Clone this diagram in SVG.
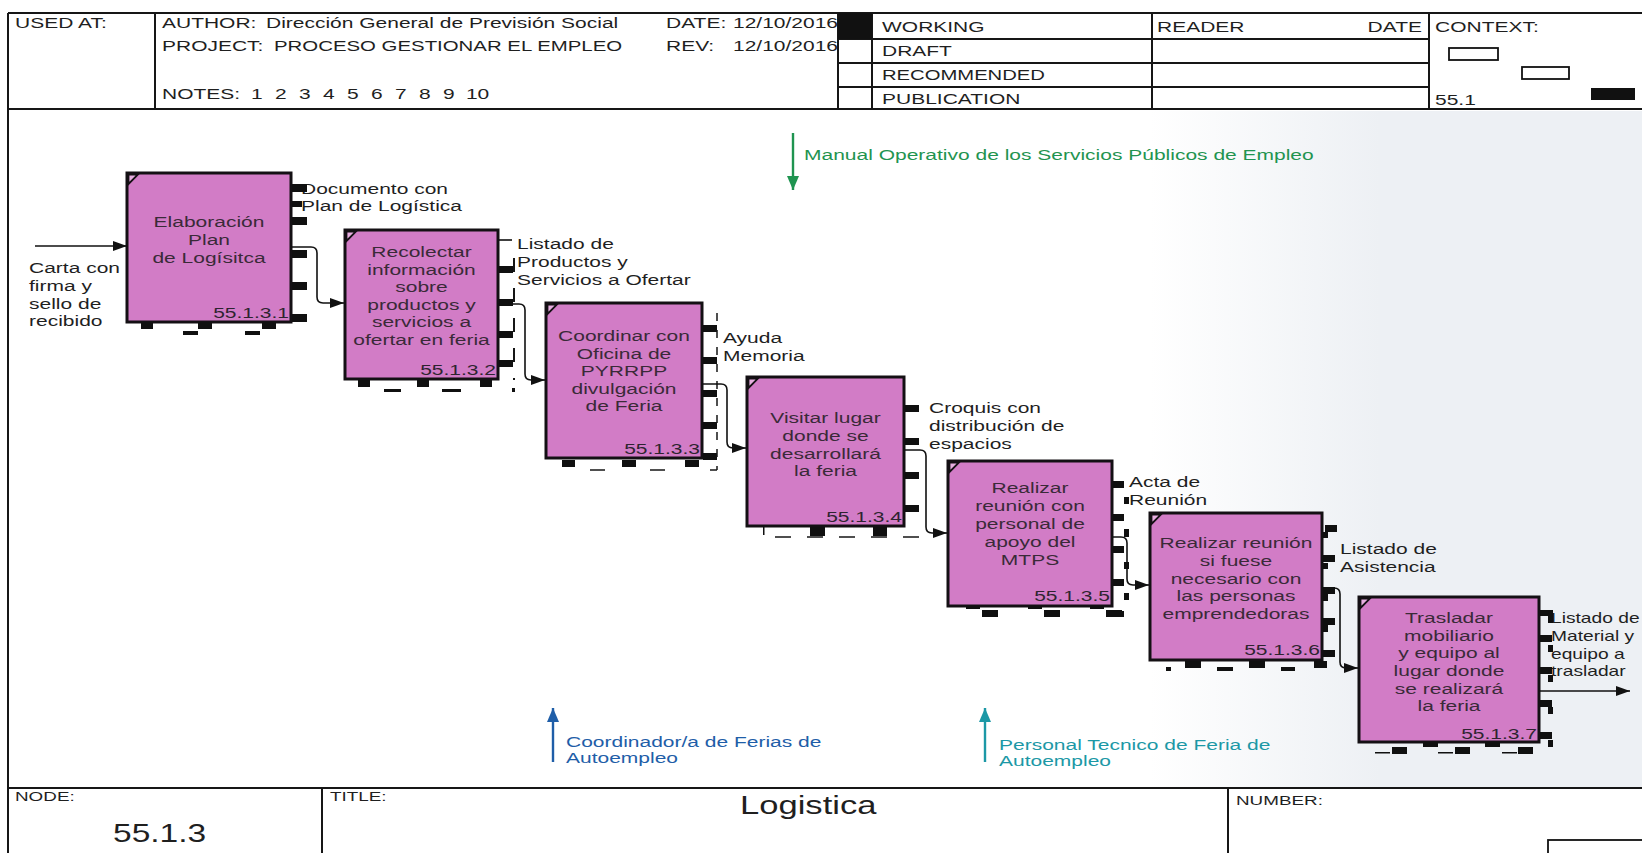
<svg xmlns="http://www.w3.org/2000/svg" width="1642" height="853" viewBox="0 0 1642 853">
  <defs>
    <style>
      .t{font-family:"Liberation Sans",Arial,sans-serif;font-size:15px;fill:#1f1f1f}
      .big{font-size:26px}
      .small{font-size:13px}
      .lbl{fill:#3a2a38;text-anchor:middle}
      .num{fill:#2e2430;text-anchor:end}
      .frame{fill:none;stroke:#161616;stroke-width:2}
      .box{fill:#d27cc6;stroke:#141014;stroke-width:3}
      .corner{fill:#e7aee0;stroke:#141014;stroke-width:1.8}
      .mk{fill:#101010}
      .dash{fill:none;stroke:#161616;stroke-width:2;stroke-dasharray:14 16}
      .conn{fill:none;stroke:#111;stroke-width:1.6}
      .green{fill:#1f9450}
      .blue{fill:#1f5ea8}
      .teal{fill:#1c98a6}
    </style>
    <linearGradient id="tint" x1="1150" y1="0" x2="1380" y2="0" gradientUnits="userSpaceOnUse">
      <stop offset="0" stop-color="#edf0f4" stop-opacity="0"/>
      <stop offset="1" stop-color="#edf0f4" stop-opacity="1"/>
    </linearGradient>
    <marker id="ah" viewBox="0 0 14 10" refX="14" refY="5" markerWidth="14" markerHeight="10" markerUnits="userSpaceOnUse" orient="auto">
      <path d="M0,0 L14,5 L0,10 z" fill="#111"/>
    </marker>
    <marker id="ahGreen" viewBox="0 0 14 12" refX="14" refY="6" markerWidth="14" markerHeight="12" markerUnits="userSpaceOnUse" orient="auto">
      <path d="M0,0 L14,6 L0,12 z" fill="#1f9450"/>
    </marker>
    <marker id="ahBlue" viewBox="0 0 14 12" refX="14" refY="6" markerWidth="14" markerHeight="12" markerUnits="userSpaceOnUse" orient="auto">
      <path d="M0,0 L14,6 L0,12 z" fill="#1f5ea8"/>
    </marker>
    <marker id="ahTeal" viewBox="0 0 14 12" refX="14" refY="6" markerWidth="14" markerHeight="12" markerUnits="userSpaceOnUse" orient="auto">
      <path d="M0,0 L14,6 L0,12 z" fill="#1c98a6"/>
    </marker>
  </defs>

  <!-- paper -->
  <rect x="0" y="0" width="1642" height="853" fill="#ffffff"/>
  <rect x="1150" y="111" width="492" height="676" fill="url(#tint)"/>

  <!-- header block -->
  <g id="header">
    <line class="frame" x1="8" y1="13" x2="1642" y2="13"/>
    <line class="frame" x1="8" y1="109" x2="1642" y2="109"/>
    <line class="frame" x1="8" y1="13" x2="8" y2="853"/>
    <line class="frame" x1="155" y1="13" x2="155" y2="109"/>
    <line class="frame" x1="838" y1="13" x2="838" y2="109"/>
    <line class="frame" x1="872" y1="13" x2="872" y2="109"/>
    <line class="frame" x1="1152" y1="13" x2="1152" y2="109"/>
    <line class="frame" x1="1429" y1="13" x2="1429" y2="109"/>
    <line class="frame" x1="838" y1="39" x2="1429" y2="39"/>
    <line class="frame" x1="838" y1="63" x2="1429" y2="63"/>
    <line class="frame" x1="838" y1="87" x2="1429" y2="87"/>
    <rect x="838" y="13" width="34" height="26" fill="#111"/>

    <text class="t" transform="translate(15,28) scale(1.4,1)">USED AT:</text>
    <text class="t" transform="translate(162,28) scale(1.4,1)">AUTHOR:</text>
    <text class="t" transform="translate(266,28) scale(1.4,1)">Dirección General de Previsión Social</text>
    <text class="t" transform="translate(162,51) scale(1.4,1)">PROJECT:</text>
    <text class="t" transform="translate(274,51) scale(1.36,1)">PROCESO GESTIONAR EL EMPLEO</text>
    <text class="t" transform="translate(162,99) scale(1.4,1)">NOTES:<tspan x="63.6">1</tspan><tspan x="80.7">2</tspan><tspan x="97.9">3</tspan><tspan x="115">4</tspan><tspan x="132.1">5</tspan><tspan x="149.3">6</tspan><tspan x="166.4">7</tspan><tspan x="183.6">8</tspan><tspan x="200.7">9</tspan><tspan x="217.1">10</tspan></text>
    <text class="t" transform="translate(666,28) scale(1.4,1)">DATE:</text>
    <text class="t" transform="translate(733,28) scale(1.4,1)">12/10/2016</text>
    <text class="t" transform="translate(666,51) scale(1.4,1)">REV:</text>
    <text class="t" transform="translate(733,51) scale(1.4,1)">12/10/2016</text>

    <text class="t" transform="translate(882,32) scale(1.4,1)">WORKING</text>
    <text class="t" transform="translate(882,56) scale(1.4,1)">DRAFT</text>
    <text class="t" transform="translate(882,80) scale(1.35,1)">RECOMMENDED</text>
    <text class="t" transform="translate(882,104) scale(1.4,1)">PUBLICATION</text>
    <text class="t" transform="translate(1157,32) scale(1.4,1)">READER</text>
    <text class="t" transform="translate(1422,32) scale(1.4,1)" text-anchor="end">DATE</text>
    <text class="t" transform="translate(1435,32) scale(1.4,1)">CONTEXT:</text>
    <text class="t" transform="translate(1435,105) scale(1.4,1)">55.1</text>
    <rect x="1449" y="48" width="49" height="12" fill="#fff" stroke="#111" stroke-width="1.8"/>
    <rect x="1522" y="67" width="47" height="12" fill="#fff" stroke="#111" stroke-width="1.8"/>
    <rect x="1591" y="88" width="44" height="12" fill="#111"/>
  </g>

  <!-- footer block -->
  <g id="footer">
    <line class="frame" x1="8" y1="788" x2="1642" y2="788"/>
    <line class="frame" x1="322" y1="788" x2="322" y2="853"/>
    <line class="frame" x1="1228" y1="788" x2="1228" y2="853"/>
    <rect x="1548" y="840" width="100" height="20" fill="#fff" stroke="#111" stroke-width="1.8"/>
    <text class="t small" transform="translate(15,801) scale(1.45,1)">NODE:</text>
    <text class="t small" transform="translate(330,801) scale(1.45,1)">TITLE:</text>
    <text class="t small" transform="translate(1236,805) scale(1.45,1)">NUMBER:</text>
    <text class="t big" transform="translate(740,814) scale(1.33,1)">Logistica</text>
    <text class="t big" transform="translate(113,842) scale(1.29,1)">55.1.3</text>
  </g>

  <!-- activity boxes -->
  <g id="A1">
    <rect class="box" x="127" y="173" width="164" height="149"/>
    <path class="corner" d="M128.5,184 L128.5,174.5 L138,174.5 Z"/>
    <text class="t lbl" transform="translate(209,227) scale(1.4,1)"><tspan x="0">Elaboración</tspan><tspan x="0" dy="17.8">Plan</tspan><tspan x="0" dy="17.8">de Logísitca</tspan></text>
    <text class="t num" transform="translate(289,318) scale(1.4,1)">55.1.3.1</text>
    <g class="mk">
      <rect x="292" y="184" width="15" height="8"/><rect x="292" y="217" width="15" height="8"/>
      <rect x="292" y="250" width="15" height="8"/><rect x="292" y="282" width="15" height="8"/>
      <rect x="292" y="314" width="15" height="8"/>
      <rect x="141" y="322" width="12" height="7"/><rect x="198" y="322" width="14" height="7"/><rect x="262" y="322" width="14" height="7"/>
      <rect x="183" y="331" width="15" height="4"/><rect x="245" y="331" width="15" height="4"/>
    </g>
  </g>

  <g id="A2">
    <rect class="box" x="345" y="230" width="153" height="149"/>
    <path class="corner" d="M346.5,241 L346.5,231.5 L356,231.5 Z"/>
    <text class="t lbl" transform="translate(421.5,257) scale(1.4,1)"><tspan x="0">Recolectar</tspan><tspan x="0" dy="17.6">información</tspan><tspan x="0" dy="17.6">sobre</tspan><tspan x="0" dy="17.6">productos y</tspan><tspan x="0" dy="17.6">servicios a</tspan><tspan x="0" dy="17.6">ofertar en feria</tspan></text>
    <text class="t num" transform="translate(496,375) scale(1.4,1)">55.1.3.2</text>
    <g class="mk">
      <rect x="499" y="266" width="14" height="7"/><rect x="499" y="299" width="14" height="7"/>
      <rect x="499" y="331" width="14" height="7"/><rect x="499" y="360" width="14" height="7"/>
      <rect x="358" y="380" width="12" height="7"/><rect x="417" y="380" width="12" height="7"/><rect x="480" y="380" width="12" height="7"/>
      <rect x="384" y="389" width="17" height="3"/><rect x="442" y="389" width="19" height="3"/>
      <rect x="512" y="388" width="3" height="4"/>
    </g>
    <line class="dash" x1="514" y1="258" x2="514" y2="380" stroke-width="2.4" stroke-dasharray="6 12"/>
  </g>

  <g id="A3">
    <rect class="box" x="546" y="303" width="156" height="155"/>
    <path class="corner" d="M547.5,314 L547.5,304.5 L557,304.5 Z"/>
    <text class="t lbl" transform="translate(624,341) scale(1.4,1)"><tspan x="0">Coordinar con</tspan><tspan x="0" dy="17.6">Oficina de</tspan><tspan x="0" dy="17.6">PYRRPP</tspan><tspan x="0" dy="17.6">divulgación</tspan><tspan x="0" dy="17.6">de Feria</tspan></text>
    <text class="t num" transform="translate(700,454) scale(1.4,1)">55.1.3.3</text>
    <g class="mk">
      <rect x="703" y="325" width="14" height="7"/><rect x="703" y="357" width="14" height="7"/>
      <rect x="703" y="390" width="14" height="7"/><rect x="703" y="422" width="14" height="7"/>
      <rect x="703" y="453" width="14" height="7"/>
      <rect x="562" y="460" width="13" height="7"/><rect x="622" y="460" width="14" height="7"/><rect x="685" y="460" width="14" height="7"/>
    </g>
    <line x1="717" y1="313" x2="717" y2="470" stroke="#161616" stroke-width="1.5" stroke-dasharray="8 9"/>
    <line x1="590" y1="470" x2="717" y2="470" stroke="#161616" stroke-width="1.5" stroke-dasharray="15 45"/>
  </g>

  <g id="A4">
    <rect class="box" x="747" y="377" width="157" height="149"/>
    <path class="corner" d="M748.5,388 L748.5,378.5 L758,378.5 Z"/>
    <text class="t lbl" transform="translate(825.5,423) scale(1.4,1)"><tspan x="0">Visitar lugar</tspan><tspan x="0" dy="17.8">donde se</tspan><tspan x="0" dy="17.8">desarrollará</tspan><tspan x="0" dy="17.8">la feria</tspan></text>
    <text class="t num" transform="translate(902,522) scale(1.4,1)">55.1.3.4</text>
    <g class="mk">
      <rect x="905" y="405" width="14" height="7"/><rect x="905" y="438" width="14" height="7"/>
      <rect x="905" y="472" width="14" height="7"/><rect x="905" y="505" width="14" height="7"/>
      <rect x="810" y="527" width="15" height="9"/><rect x="873" y="527" width="14" height="9"/>
      <rect x="763" y="527" width="1.5" height="8"/>
    </g>
    <line x1="775" y1="537" x2="920" y2="537" stroke="#161616" stroke-width="1.6" stroke-dasharray="16 16"/>
  </g>

  <g id="A5">
    <rect class="box" x="948" y="461" width="164" height="145"/>
    <path class="corner" d="M949.5,472 L949.5,462.5 L959,462.5 Z"/>
    <text class="t lbl" transform="translate(1030,493) scale(1.4,1)"><tspan x="0">Realizar</tspan><tspan x="0" dy="18">reunión con</tspan><tspan x="0" dy="18">personal de</tspan><tspan x="0" dy="18">apoyo del</tspan><tspan x="0" dy="18">MTPS</tspan></text>
    <text class="t num" transform="translate(1110,601) scale(1.4,1)">55.1.3.5</text>
    <g class="mk">
      <rect x="1113" y="481" width="11" height="7"/><rect x="1113" y="514" width="11" height="7"/>
      <rect x="1113" y="546" width="11" height="7"/><rect x="1113" y="579" width="11" height="7"/>
      <rect x="1113" y="611" width="11" height="6"/>
      <rect x="1124" y="497" width="5" height="7"/><rect x="1124" y="529" width="5" height="8"/>
      <rect x="1124" y="562" width="5" height="7"/><rect x="1124" y="593" width="5" height="7"/>
      <rect x="982" y="610" width="16" height="7"/><rect x="1044" y="610" width="16" height="7"/><rect x="1106" y="610" width="16" height="7"/>
      <rect x="966" y="606" width="14" height="3"/><rect x="1028" y="606" width="14" height="3"/><rect x="1090" y="606" width="14" height="3"/>
    </g>
  </g>

  <g id="A6">
    <rect class="box" x="1150" y="513" width="172" height="147"/>
    <path class="corner" d="M1151.5,524 L1151.5,514.5 L1161,514.5 Z"/>
    <text class="t lbl" transform="translate(1236,548) scale(1.4,1)"><tspan x="0">Realizar reunión</tspan><tspan x="0" dy="17.8">si fuese</tspan><tspan x="0" dy="17.8">necesario con</tspan><tspan x="0" dy="17.8">las personas</tspan><tspan x="0" dy="17.8">emprendedoras</tspan></text>
    <text class="t num" transform="translate(1320,655) scale(1.4,1)">55.1.3.6</text>
    <g class="mk">
      <rect x="1325" y="525" width="12" height="7"/><rect x="1323" y="555" width="12" height="7"/>
      <rect x="1323" y="587" width="12" height="7"/><rect x="1323" y="618" width="12" height="7"/>
      <rect x="1323" y="650" width="12" height="7"/>
      <rect x="1323" y="532" width="5" height="6"/><rect x="1323" y="563" width="5" height="6"/>
      <rect x="1323" y="594" width="5" height="7"/><rect x="1323" y="625" width="5" height="7"/>
      <rect x="1185" y="661" width="16" height="7"/><rect x="1249" y="661" width="16" height="7"/><rect x="1314" y="661" width="13" height="7"/>
      <rect x="1166" y="667" width="5" height="4"/><rect x="1217" y="667" width="16" height="4"/><rect x="1281" y="667" width="14" height="4"/>
    </g>
  </g>

  <g id="A7">
    <rect class="box" x="1359" y="597" width="180" height="145"/>
    <path class="corner" d="M1360.5,608 L1360.5,598.5 L1370,598.5 Z"/>
    <text class="t lbl" transform="translate(1449,623) scale(1.4,1)"><tspan x="0">Trasladar</tspan><tspan x="0" dy="17.7">mobiliario</tspan><tspan x="0" dy="17.7">y equipo al</tspan><tspan x="0" dy="17.7">lugar donde</tspan><tspan x="0" dy="17.7">se realizará</tspan><tspan x="0" dy="17.7">la feria</tspan></text>
    <text class="t num" transform="translate(1537,739) scale(1.4,1)">55.1.3.7</text>
  </g>

  <!-- output and input labels -->
  <g id="labels">
    <text class="t" transform="translate(29,273) scale(1.4,1)"><tspan x="0">Carta con</tspan><tspan x="0" dy="17.8">firma y</tspan><tspan x="0" dy="17.8">sello de</tspan><tspan x="0" dy="17.8">recibido</tspan></text>
    <text class="t" transform="translate(301,194) scale(1.4,1)"><tspan x="0">Documento con</tspan><tspan x="0" dy="17.5">Plan de Logística</tspan></text>
    <text class="t" transform="translate(517,249) scale(1.4,1)"><tspan x="0">Listado de</tspan><tspan x="0" dy="17.8">Productos y</tspan><tspan x="0" dy="17.8">Servicios a Ofertar</tspan></text>
    <text class="t" transform="translate(723,343) scale(1.4,1)"><tspan x="0">Ayuda</tspan><tspan x="0" dy="17.8">Memoria</tspan></text>
    <text class="t" transform="translate(929,413) scale(1.4,1)"><tspan x="0">Croquis con</tspan><tspan x="0" dy="17.8">distribución de</tspan><tspan x="0" dy="17.8">espacios</tspan></text>
    <text class="t" transform="translate(1129,487) scale(1.4,1)"><tspan x="0">Acta de</tspan><tspan x="0" dy="17.8">Reunión</tspan></text>
    <text class="t" transform="translate(1340,554) scale(1.4,1)"><tspan x="0">Listado de</tspan><tspan x="0" dy="17.8">Asistencia</tspan></text>
    <text class="t" transform="translate(1551,623) scale(1.28,1)"><tspan x="0">Listado de</tspan><tspan x="0" dy="17.8">Material y</tspan><tspan x="0" dy="17.8">equipo a</tspan><tspan x="0" dy="17.8">trasladar</tspan></text>
  </g>

  <!-- markers that sit on the right edge of the last box (drawn over its labels) -->
  <g id="A7-handles" class="mk">
    <rect x="1540" y="610" width="13" height="6"/><rect x="1548" y="616" width="5" height="7"/>
    <rect x="1540" y="635" width="12" height="7"/><rect x="1548" y="645" width="5" height="7"/>
    <rect x="1540" y="667" width="12" height="7"/><rect x="1548" y="675" width="5" height="7"/>
    <rect x="1540" y="700" width="12" height="7"/><rect x="1548" y="707" width="5" height="7"/>
    <rect x="1540" y="732" width="12" height="7"/><rect x="1548" y="740" width="5" height="7"/>
    <rect x="1392" y="747" width="15" height="7"/><rect x="1455" y="747" width="15" height="7"/><rect x="1518" y="747" width="15" height="7"/>
    <rect x="1423" y="742" width="15" height="5"/><rect x="1485" y="742" width="15" height="5"/>
    <rect x="1375" y="752" width="15" height="1.5"/><rect x="1438" y="752" width="15" height="1.5"/><rect x="1502" y="752" width="15" height="1.5"/>
  </g>

  <!-- handles that overlap the first output label -->
  <g id="A1-handles" class="mk">
    <rect x="292" y="184" width="15" height="8"/>
    <rect x="292" y="201" width="10" height="6"/>
  </g>

  <!-- flow between activities -->
  <g id="connectors">
    <path class="conn" d="M35,246 H127" marker-end="url(#ah)"/>
    <path class="conn" d="M291,247 H311 Q317,247 317,253 V297 Q317,303 323,303 H344" marker-end="url(#ah)"/>
    <path class="conn" d="M498,304 H519 Q525,304 525,310 V374 Q525,380 531,380 H545" marker-end="url(#ah)"/>
    <path class="conn" d="M702,384 H721 Q727,384 727,390 V442 Q727,448 733,448 H746" marker-end="url(#ah)"/>
    <path class="conn" d="M904,450 H920 Q926,450 926,456 V527 Q926,533 932,533 H947" marker-end="url(#ah)"/>
    <path class="conn" d="M1112,537 H1121 Q1127,537 1127,543 V579 Q1127,585 1133,585 H1149" marker-end="url(#ah)"/>
    <path class="conn" d="M1322,588 H1334 Q1340,588 1340,594 V662 Q1340,668 1346,668 H1358" marker-end="url(#ah)"/>
    <path class="conn" d="M1539,691 H1630" marker-end="url(#ah)"/>
    <path class="conn" d="M498,240 H512" stroke-width="1.2"/>
  </g>

  <!-- control and mechanism arrows -->
  <g id="control-manual">
    <path d="M793,133 V190" stroke="#1f9450" stroke-width="2.4" fill="none" marker-end="url(#ahGreen)"/>
    <text class="t green" transform="translate(804,160) scale(1.4,1)">Manual Operativo de los Servicios Públicos de Empleo</text>
  </g>
  <g id="mechanism-coordinador">
    <path d="M553,762 V708" stroke="#1f5ea8" stroke-width="2.4" fill="none" marker-end="url(#ahBlue)"/>
    <text class="t blue" transform="translate(566,747) scale(1.4,1)"><tspan x="0">Coordinador/a de Ferias de</tspan><tspan x="0" dy="16">Autoempleo</tspan></text>
  </g>
  <g id="mechanism-personal">
    <path d="M985,762 V708" stroke="#1c98a6" stroke-width="2.4" fill="none" marker-end="url(#ahTeal)"/>
    <text class="t teal" transform="translate(999,750) scale(1.4,1)"><tspan x="0">Personal Tecnico de Feria de</tspan><tspan x="0" dy="16">Autoempleo</tspan></text>
  </g>
</svg>
